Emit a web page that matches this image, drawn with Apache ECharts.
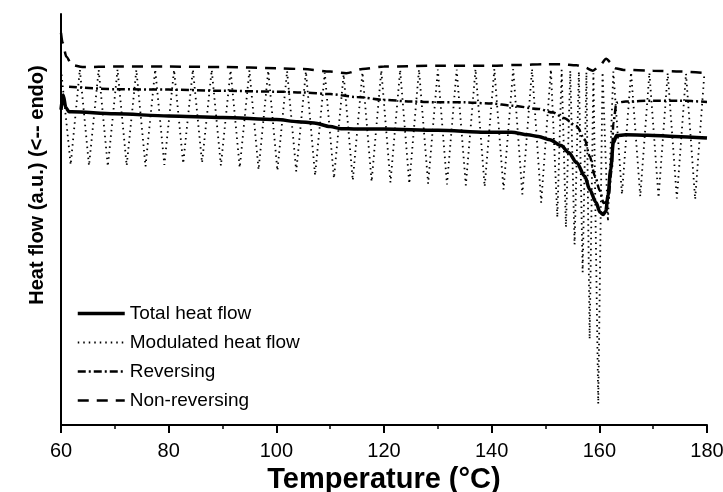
<!DOCTYPE html>
<html>
<head>
<meta charset="utf-8">
<script src="https://cdn.jsdelivr.net/npm/echarts@6/dist/echarts.min.js"></script>
<style>
  html, body { margin: 0; padding: 0; background: #fff; }
  #dsc-chart { width: 723px; height: 492px; }
</style>
</head>
<body>
<div id="dsc-chart"></div>
<script>
// temperatures in degC, heat flow in arbitrary units
var totalTemp = [60.0, 60.4, 60.9, 61.5, 62, 70, 80, 90, 100, 104, 107, 110, 112, 115, 120,
  130, 139, 143.7, 146.7, 148.7, 150.8, 152.9, 154.3, 155.8, 157.3, 158.2, 159.4, 160.1, 160.7, 161.2,
  161.6, 162.1, 162.6, 163.2, 164.9, 169, 174, 180];
var totalHeat = [76.7, 80.3, 77.2, 76.2, 76.2, 75.7, 75.2, 74.8, 74.3, 73.8, 73.5, 72.6, 72.1, 72.0, 72.0,
  71.7, 71.2, 71.2, 70.6, 70.2, 69.4, 68.0, 66.3, 63.8, 60.5, 57.3, 54.1, 51.8, 51.2, 52.0,
  55.7, 62.1, 68.7, 70.4, 70.6, 70.5, 70.2, 69.8];

var modTemp = [60.0, 61.8, 63.5, 65.2, 67.0, 68.7, 70.5, 72.2, 74.0, 75.7,
  77.5, 79.2, 81.0, 82.7, 84.5, 86.2, 88.0, 89.7, 91.5, 93.2,
  95.0, 96.7, 98.5, 100.2, 102.0, 103.7, 105.5, 107.2, 109.0, 110.7,
  112.5, 114.2, 116.0, 117.7, 119.5, 121.2, 123.0, 124.7, 126.5, 128.2,
  130.0, 131.7, 133.5, 135.2, 137.0, 138.7, 140.5, 142.2, 144.0, 145.7,
  147.5, 149.2, 151.0, 152.2, 153.0, 153.8, 154.6, 155.4, 156.2, 156.9,
  157.6, 158.2, 158.9, 159.8, 160.6, 161.6, 162.6, 164.2, 165.9, 167.6,
  169.3, 171.0, 172.7, 174.4, 176.1, 177.8, 179.5];
var modHeat = [86.6, 63.3, 86.5, 63.1, 86.4, 62.9, 86.5, 63.1, 86.4, 62.9,
  86.5, 63.3, 86.4, 63.6, 86.5, 63.8, 86.4, 63.1, 86.3, 62.6,
  86.3, 62.1, 86.2, 61.9, 86.1, 61.7, 86.0, 60.7, 85.7, 60.0,
  85.3, 59.5, 85.8, 59.2, 86.3, 59.0, 86.4, 58.7, 86.5, 58.7,
  86.5, 58.5, 86.5, 58.3, 86.6, 58.0, 86.6, 57.3, 86.6, 56.1,
  86.6, 54.1, 86.5, 50.5, 86.4, 48.1, 86.2, 43.9, 86.0, 37.1,
  85.8, 20.9, 85.6, 5.1, 85.8, 49.5, 86.0, 56.1, 85.8, 55.6,
  85.7, 55.3, 85.6, 55.1, 85.5, 54.9, 85.3];

var revTemp = [61.5, 70, 80, 90, 100, 105, 110, 115, 120, 125, 130, 135, 140, 143.7, 148.7,
  151.4, 153.4, 155.8, 157.3, 158.2, 159.2, 160.1, 160.8, 161.6, 162.3, 162.6, 163.2, 164.9, 170, 175, 180];
var revHeat = [82.3, 81.7, 81.6, 81.3, 81.1, 80.9, 80.5, 79.8, 79.1, 78.7, 78.5, 78.5, 78.2, 77.7, 76.9,
  76.0, 74.7, 72.7, 69.4, 65.4, 60.5, 57.0, 54.0, 54.5, 62.1, 73.5, 78.4, 78.7, 78.9, 78.9, 78.6];

var nonTemp = [60.0, 60.3, 61, 62, 64, 70, 80, 90, 100, 105, 110, 113, 116, 120, 130,
  140, 145, 150, 152.8, 155.8, 157.3, 158.8, 159.9, 161.3, 162.2, 162.9, 164.5, 170, 175, 180];
var nonHeat = [95.4, 93.0, 89.6, 87.6, 87.1, 87.2, 87.2, 87.1, 86.8, 86.6, 86.0, 85.6, 86.6, 87.2, 87.4,
  87.4, 87.6, 87.8, 87.8, 87.5, 87.0, 86.2, 87.2, 89.1, 88.1, 86.8, 86.4, 86.2, 86.0, 85.6];

var xTicks = [60, 80, 100, 120, 140, 160, 180];

function pairs(xs, ys) {
  return xs.map(function (x, i) { return [x, ys[i]]; });
}

var chart = echarts.init(document.getElementById('dsc-chart'), null, { renderer: 'canvas' });
var font = "Arial, 'Liberation Sans', sans-serif";

var option = {
  backgroundColor: '#fff',
  animation: false,
  color: ['#000', '#000', '#000', '#000'],
  textStyle: { fontFamily: font, color: '#000' },
  grid: { left: 61, right: 16, top: 14, bottom: 63, containLabel: false, outerBoundsMode: 'none' },
  legend: {
    left: 71,
    top: 299,
    orient: 'vertical',
    itemWidth: 47,
    itemHeight: 14,
    itemGap: 10,
    textStyle: { fontSize: 19, color: '#000', fontFamily: font, lineHeight: 19 },
    itemStyle: { opacity: 0 },
    lineStyle: { width: 'inherit' },
    data: ['Total heat flow', 'Modulated heat flow', 'Reversing', 'Non-reversing']
  },
  xAxis: {
    type: 'value',
    min: xTicks[0],
    max: xTicks[xTicks.length - 1],
    interval: 20,
    name: 'Temperature (°C)',
    nameLocation: 'middle',
    nameGap: 16,
    nameTextStyle: { fontSize: 29, fontWeight: 'bold', color: '#000', fontFamily: font },
    axisLine: { lineStyle: { color: '#000', width: 2 } },
    axisTick: { inside: false, length: 8, lineStyle: { color: '#000', width: 2 } },
    minorTick: { show: true, splitNumber: 2, length: 4, lineStyle: { color: '#000', width: 1.5 } },
    axisLabel: { fontSize: 20, color: '#000', margin: 12, fontFamily: font },
    splitLine: { show: false }
  },
  yAxis: {
    type: 'value',
    min: -1,
    max: 100,
    axisLine: { show: true, lineStyle: { color: '#000', width: 2 } },
    axisTick: { show: false },
    axisLabel: { show: false },
    splitLine: { show: false }
  },
  graphic: [{
    type: 'text',
    x: 37,
    y: 185,
    rotation: Math.PI / 2,
    style: {
      text: 'Heat flow (a.u.) (<-- endo)',
      fontSize: 20,
      fontWeight: 'bold',
      fontFamily: font,
      fill: '#000',
      align: 'center',
      verticalAlign: 'middle'
    }
  }],
  series: [
    {
      name: 'Modulated heat flow',
      type: 'line',
      symbol: 'none',
      data: pairs(modTemp, modHeat),
      lineStyle: { color: '#000', width: 1.8, type: [1.5, 4] },
      z: 1
    },
    {
      name: 'Reversing',
      type: 'line',
      symbol: 'none',
      smooth: 0.3,
      smoothMonotone: 'x',
      data: pairs(revTemp, revHeat),
      lineStyle: { color: '#000', width: 2.5, type: [8, 3, 2, 3] },
      z: 2
    },
    {
      name: 'Non-reversing',
      type: 'line',
      symbol: 'none',
      smooth: 0.3,
      smoothMonotone: 'x',
      data: pairs(nonTemp, nonHeat),
      lineStyle: { color: '#000', width: 2.5, type: [11, 8] },
      z: 3
    },
    {
      name: 'Total heat flow',
      type: 'line',
      symbol: 'none',
      smooth: 0.3,
      smoothMonotone: 'x',
      data: pairs(totalTemp, totalHeat),
      lineStyle: { color: '#000', width: 3.5 },
      z: 4
    }
  ]
};

option && chart.setOption(option);
</script>
</body>
</html>
